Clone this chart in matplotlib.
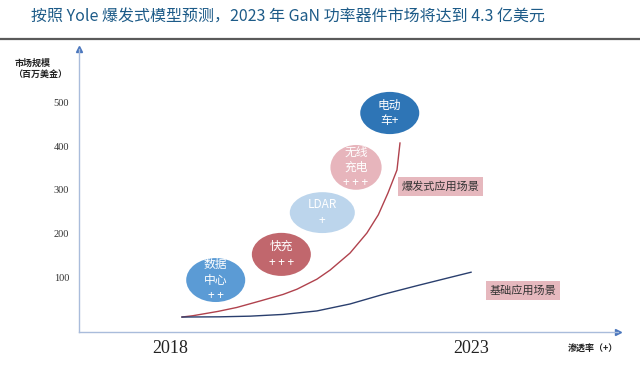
import matplotlib.pyplot as plt
from matplotlib.patches import Ellipse
from matplotlib.lines import Line2D

plt.rcParams['font.family'] = ['Noto Sans CJK SC', 'DejaVu Sans']

# 爆发式 / 基础 两条曲线
red_x = [2018.20, 2018.38, 2018.80, 2019.11, 2019.50, 2019.88, 2020.11, 2020.44, 2020.66,
         2020.99, 2021.27, 2021.46, 2021.62, 2021.77, 2021.82]
red_y = [8, 11, 21, 30, 45, 60, 72, 95, 116, 155, 201, 243, 293, 346, 408]

blue_x = [2018.20, 2018.83, 2019.33, 2019.88, 2020.44, 2020.99, 2021.54, 2022.10,
          2022.65, 2023.00]
blue_y = [8, 8.5, 10, 14, 22, 38, 60, 80, 99, 111]

# 应用场景气泡
apps = ['数据\n中心\n+ +', '快充\n+ + +', 'LDAR\n+', '无线\n充电\n+ + +', '电动\n车+']
app_x = [2018.76, 2019.85, 2020.53, 2021.09, 2021.65]
app_y = [93, 152, 248, 352, 477]
app_w = [0.98, 0.98, 1.08, 0.85, 0.98]
app_h = [101, 99, 94, 103, 97]
app_colors = ['#5b9bd5', '#c1676d', '#bcd5ec', '#e7b5bc', '#2e75b6']

y_ticks = [100, 200, 300, 400, 500]
x_ticks = [2018, 2023]

title = '按照 Yole 爆发式模型预测，2023 年 GaN 功率器件市场将达到 4.3 亿美元'

fig = plt.figure(figsize=(6.4, 3.68), dpi=100)
ax = fig.add_axes([79 / 640, 36 / 368, (618 - 79) / 640, (332 - 49) / 368])
ax.set_xlim(2016.49, 2025.44)
ax.set_ylim(-26.4, 624.1)

ax.plot(red_x, red_y, color='#b0424d', lw=1.0)
ax.plot(blue_x, blue_y, color='#2a3f6e', lw=1.0)

for txt, x, y, w, h, c in zip(apps, app_x, app_y, app_w, app_h, app_colors):
    ax.add_patch(Ellipse((x, y), w, h, facecolor=c, edgecolor='none', zorder=3))
    ax.text(x, y, txt, ha='center', va='center', color='white', fontsize=8.5,
            linespacing=1.25, zorder=4)

box = dict(boxstyle='square,pad=0.35', facecolor='#e6b8be', edgecolor='none')
ax.text(2022.49, 308, '爆发式应用场景', ha='center', va='center', fontsize=8,
        color='#333333', bbox=box)
ax.text(2023.86, 69, '基础应用场景', ha='center', va='center', fontsize=8,
        color='#333333', bbox=box)

# 坐标轴
for s in ['top', 'right']:
    ax.spines[s].set_visible(False)
for s in ['left', 'bottom']:
    ax.spines[s].set_color('#a9bcdb')
    ax.spines[s].set_linewidth(1.0)
ax.plot([0], [1], marker='^', ms=5, color='#4a76bd', transform=ax.transAxes, clip_on=False)
ax.plot([1], [0], marker='>', ms=5, color='#4a76bd', transform=ax.transAxes, clip_on=False)

ax.set_yticks(y_ticks)
ax.set_yticklabels([str(v) for v in y_ticks], family='Liberation Serif', fontsize=7.5,
                   color='#333333')
ax.set_xticks(x_ticks)
ax.set_xticklabels([str(v) for v in x_ticks], family='Liberation Serif', fontsize=13,
                   color='#222222')
ax.tick_params(axis='y', length=0, pad=7)
ax.tick_params(axis='x', length=0, pad=6)

fig.text(33 / 640, 1 - 63 / 368, '市场规模', ha='center', va='center', fontsize=6.5,
         weight='bold', color='#222222')
fig.text(40 / 640, 1 - 74 / 368, '（百万美金）', ha='center', va='center', fontsize=6.5,
         weight='bold', color='#222222')
fig.text(593 / 640, 1 - 348 / 368, '渗透率（+）', ha='center', va='center', fontsize=6.5,
         weight='bold', color='#222222')

fig.text(31 / 640, 1 - 17.5 / 368, title, ha='left', va='center', fontsize=11.5,
         color='#1d5b88')
fig.add_artist(Line2D([0, 1], [1 - 39 / 368, 1 - 39 / 368], transform=fig.transFigure,
                      color='#5a5a5a', lw=1.6))

fig.savefig('out.png', dpi=100)
